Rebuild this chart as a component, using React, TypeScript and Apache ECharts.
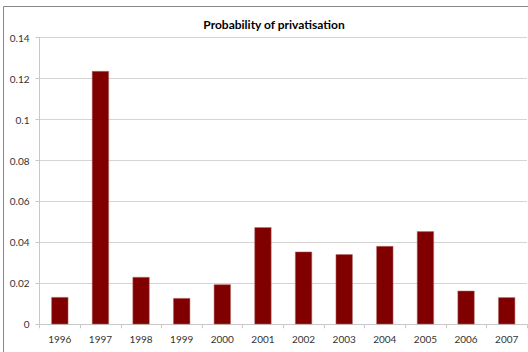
import React, { useEffect, useRef } from "react";
import * as echarts from "echarts";

const title = "Probability of privatisation";
const years = ["1996", "1997", "1998", "1999", "2000", "2001", "2002", "2003", "2004", "2005", "2006", "2007"];
const probability = [0.0133, 0.1237, 0.0231, 0.0128, 0.0195, 0.0474, 0.0355, 0.0342, 0.0382, 0.0454, 0.0164, 0.0132];
const yTicks = { min: 0, max: 0.14, interval: 0.02 };

export default function App() {
  const ref = useRef<HTMLDivElement>(null);
  useEffect(() => {
    document.body.style.margin = "0";
    const chart = echarts.init(ref.current!, null, { renderer: "svg" });
    const font = "Lato";
    chart.setOption({
      animation: false,
      backgroundColor: "#ffffff",
      title: {
        text: title,
        left: 269,
        top: 13,
        textAlign: "center",
        textStyle: { fontFamily: font, fontSize: 12, fontWeight: "bold", color: "#000" },
      },
      graphic: [
        {
          type: "rect",
          shape: { x: 3.5, y: 6.5, width: 530, height: 360 },
          style: { fill: "none", stroke: "#888888", lineWidth: 1 },
          silent: true,
        },
      ],
      grid: { left: 39.5, right: 1, top: 37.7, bottom: 27.7 },
      xAxis: {
        type: "category",
        data: years,
        boundaryGap: true,
        axisLine: { show: true, lineStyle: { color: "#c8c8c8" } },
        axisTick: { show: true, length: 4, lineStyle: { color: "#c8c8c8" } },
        axisLabel: { fontFamily: font, fontSize: 10, color: "#333", margin: 10 },
      },
      yAxis: {
        type: "value",
        min: yTicks.min,
        max: yTicks.max,
        interval: yTicks.interval,
        axisLine: { show: true, lineStyle: { color: "#c8c8c8" } },
        axisTick: { show: true, length: 4, lineStyle: { color: "#c8c8c8" } },
        splitLine: { show: true, lineStyle: { color: "#d4d4d4" } },
        axisLabel: {
          fontFamily: font,
          fontSize: 10,
          color: "#333",
          margin: 10,
          formatter: (v: number) => String(parseFloat(v.toFixed(2))),
        },
      },
      series: [
        {
          type: "bar",
          data: probability,
          barWidth: 17,
          itemStyle: { color: "#800000", borderColor: "#b77070", borderWidth: 0.5 },
        },
      ],
    });
    return () => chart.dispose();
  }, []);
  return <div ref={ref} style={{ width: 528, height: 352 }} />;
}
